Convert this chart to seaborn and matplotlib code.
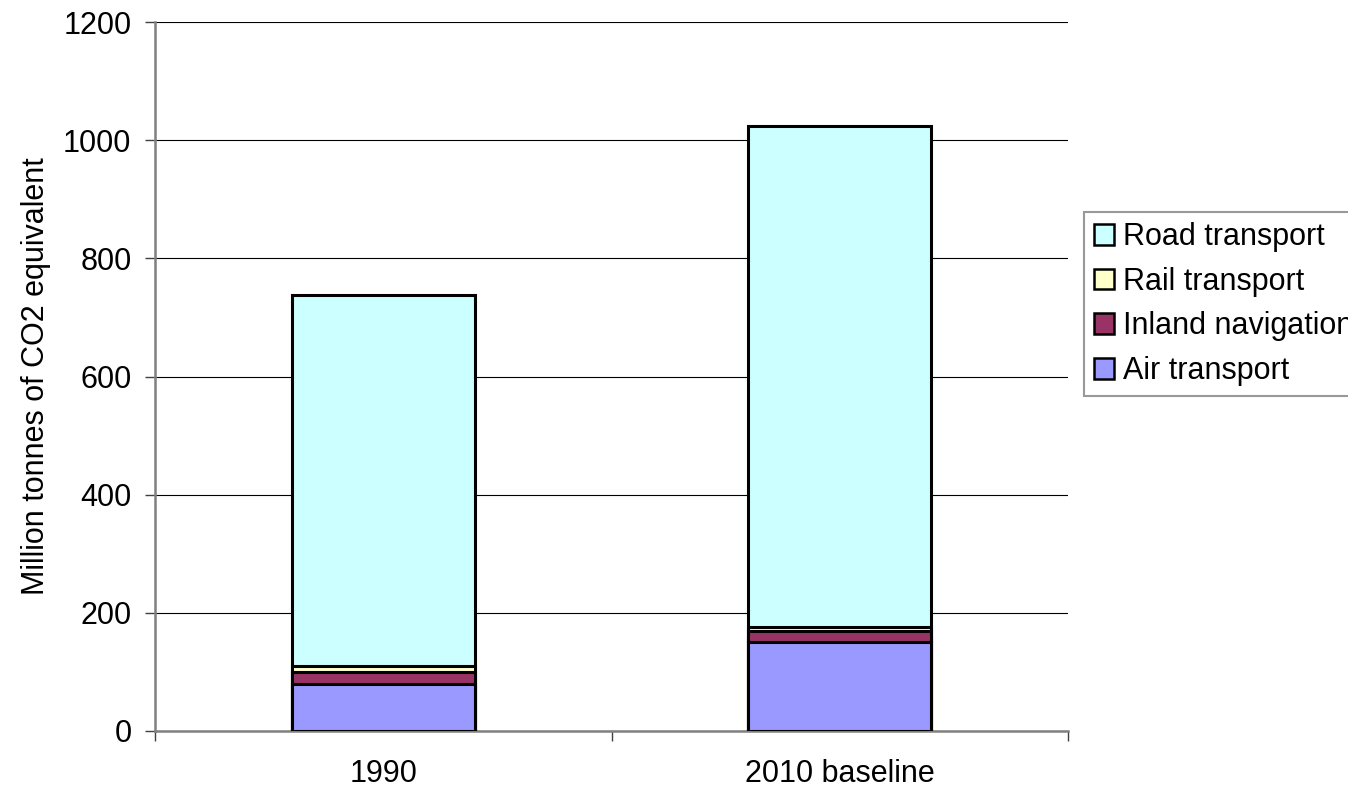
import matplotlib
matplotlib.use("Agg")
import matplotlib.pyplot as plt
import seaborn as sns
import pandas as pd
import numpy as np
from matplotlib.patches import Patch

categories = ["1990", "2010 baseline"]
air = [80, 151]
inland = [20, 18]
rail = [10, 7]
road = [628, 848]

series_names = ["Air transport", "Inland navigation", "Rail transport", "Road transport"]
series_values = [air, inland, rail, road]
colors = ["#9999FF", "#993366", "#FFFFCC", "#CCFFFF"]
yticks = [0, 200, 400, 600, 800, 1000, 1200]

sns.set_style("white")
plt.rcParams["font.family"] = ["Liberation Sans", "DejaVu Sans"]
plt.rcParams["text.color"] = "black"
plt.rcParams["axes.labelcolor"] = "black"
plt.rcParams["xtick.color"] = "black"
plt.rcParams["ytick.color"] = "black"

FS = 22

fig = plt.figure(figsize=(13.48, 7.88), dpi=100)
ax = fig.add_axes([155 / 1348, 1 - 731 / 788, (1068 - 155) / 1348, (731 - 22) / 788])

# cumulative stacks, drawn tallest first so each lower layer sits on top
cum = np.cumsum(np.array(series_values), axis=0)
for i in range(len(series_names) - 1, -1, -1):
    df = pd.DataFrame({"cat": categories, "val": cum[i]})
    sns.barplot(data=df, x="cat", y="val", color=colors[i], saturation=1,
                width=0.4, edgecolor="black", linewidth=2.2, ax=ax, zorder=3)

ax.set_xlim(-0.5, 1.5)
ax.set_ylim(0, 1200)
ax.set_yticks(yticks)
ax.set_yticklabels([str(t) for t in yticks], fontsize=FS)
ax.set_xlabel("")
ax.set_ylabel("Million tonnes of CO2 equivalent", fontsize=FS, labelpad=9)

ax.yaxis.grid(True, color="black", linewidth=0.8, zorder=0)
ax.set_axisbelow(True)
for s in ax.spines.values():
    s.set_color("#808080")
    s.set_linewidth(1.8)
ax.spines["top"].set_visible(False)
ax.spines["right"].set_visible(False)

# x ticks sit between categories, labels centred under bars
ax.set_xticks([-0.5, 0.5, 1.5])
ax.set_xticklabels([])
ax.set_xticks([0, 1], minor=True)
ax.set_xticklabels(categories, minor=True, fontsize=FS)
ax.tick_params(axis="x", which="major", length=7, color="#404040", width=1.0, direction="out", bottom=True)
ax.tick_params(axis="x", which="minor", length=0, pad=20)
ax.tick_params(axis="y", length=7, color="#404040", width=1.0, direction="out", left=True, pad=10)

handles = [Patch(facecolor=colors[i], edgecolor="black", linewidth=1.8, label=series_names[i])
           for i in range(len(series_names) - 1, -1, -1)]
leg = fig.legend(handles=handles, loc="upper left", bbox_to_anchor=(1084 / 1348, 1 - 212 / 788),
                 fontsize=FS, frameon=True, fancybox=False, handlelength=0.65, handleheight=0.65,
                 handletextpad=0.3, labelspacing=0.48, borderpad=0.33, borderaxespad=0)
leg.get_frame().set_edgecolor("#808080")
leg.get_frame().set_linewidth(1.5)

fig.savefig("out.png", dpi=100)
